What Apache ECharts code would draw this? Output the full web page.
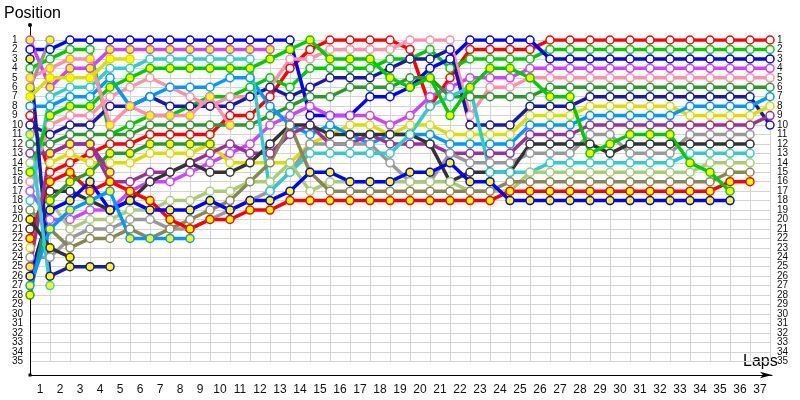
<!DOCTYPE html>
<html><head><meta charset="utf-8">
<script src="https://cdn.jsdelivr.net/npm/echarts@6/dist/echarts.min.js"></script>
<style>html,body{margin:0;padding:0;background:#fff}#c{width:800px;height:400px}</style>
</head><body><div id="c"></div>
<script>
// positions per lap (index = lap 0..37), trailing entries omitted when retired / lapped
const R1  = [9,15,14,13,12,12,11,11,11,11,9,9,7,4,2,1,1,1,1,2,8,5,2,2,2,2,1,1,1,1,1,1,1,1,1,1,1,1];
const G1  = [4,3,2,2,11,10,9,9,8,7,7,6,5,6,4,4,4,4,3,3,2,4,3,3,3,3,2,2,2,2,2,2,2,2,2,2,2,2];
const B1  = [2,2,1,1,1,1,1,1,1,1,1,1,1,1,9,9,9,7,7,6,4,3,1,1,1,1,3,3,3,3,3,3,3,3,3,3,3,3];
const V1  = [17,20,20,19,19,17,16,16,15,14,13,12,10,9,8,9,9,9,10,9,7,6,5,5,5,4,4,4,4,4,4,4,4,4,4,4,4,4];
const P1  = [16,10,9,9,7,6,5,6,7,8,7,7,6,3,3,2,2,2,2,1,1,1,9,6,6,5,5,5,5,5,5,5,5,5,5,5,5,5];
const DG1 = [12,12,11,11,11,11,10,10,10,10,10,10,9,8,7,7,6,6,6,5,5,7,7,7,7,7,6,6,6,6,6,6,6,6,6,6,6,6];
const N1  = [10,11,10,10,8,8,7,8,8,8,8,7,6,7,6,5,5,5,4,3,3,2,10,10,10,8,8,8,7,7,7,7,7,7,7,7,7,10];
const Y1  = [23,14,13,14,14,14,13,13,13,12,14,14,14,14,12,11,10,10,11,10,10,11,11,11,11,9,9,9,8,8,8,8,8,9,9,9,9,8];
const LB1 = [8,8,7,7,5,8,7,6,6,6,5,5,8,10,11,10,11,12,11,11,11,12,12,12,12,10,10,10,9,9,9,9,9,8,8,8,8,7];
const PU1 = [13,13,12,12,16,16,15,15,14,13,12,13,13,11,10,12,12,11,12,12,12,13,13,13,13,11,11,11,10,10,10,10,10,10,10,10,10,9];
const GR1 = [24,24,22,21,21,20,20,21,21,20,19,18,17,15,12,12,12,12,14,16,16,13,14,14,14,13,13,13,11,11,13,13,13,11,11,11,11];
const D1  = [21,17,17,18,19,18,16,15,14,15,15,14,12,10,10,11,11,11,11,11,12,16,15,15,15,12,12,12,12,13,12,12,12,12,12,12,12];
const C1  = [18,7,6,6,4,4,3,3,3,3,3,3,17,15,13,13,13,13,13,11,8,7,6,15,15,15,14,14,14,14,14,14,14,13,13,13,13];
const LG1 = [14,18,21,20,20,19,19,18,18,17,17,16,16,14,17,16,16,16,16,16,16,16,17,17,17,15,15,15,15,15,15,15,15,15,14,14,14];
const O1  = [19,21,23,22,22,21,22,21,20,19,18,16,14,10,15,17,17,17,17,17,17,17,17,17,16,16,16,16,16,16,16,16,16,16,16,15,15];
const R2  = [22,16,15,17,16,17,18,20,21,20,20,19,19,18,18,18,18,18,18,18,18,18,18,18,17,17,17,17,17,17,17,17,17,17,17,16,16];
const G2  = [15,9,8,8,6,5,4,4,4,4,4,4,3,2,1,3,3,3,5,6,5,9,6,4,4,5,7,7,13,12,11,11,11,14,15,17];
const B2  = [26,19,18,16,19,18,19,19,19,18,19,18,18,17,15,15,16,16,16,15,15,14,16,16,18,18,18,18,18,18,18,18,18,18,18,18];
const V2  = [1,6,4,4,2,2,2,2,2,2,2,2,2];
const P2  = [5,4,3,3,10,8,9,9,9,7,10];
const DG2 = [28,18,16,15,13,13,12,12,12,12];
const N2  = [3,26,25,25,25];
const Y2  = [7,5,5,5,3,3];
const LB2 = [27,21,19,18,17,22,22,22,22];
const PU2 = [25,13,12,12,15];
const GR2 = [6,1];
const D2  = [20,23,24];
const C2  = [11,27];

const drivers = [
  [R1,'#ff0000',0],[G1,'#00cc00',0],[B1,'#0000ff',0],[V1,'#cc44ff',0],[P1,'#ff8fab',0],
  [DG1,'#2a9a2a',0],[N1,'#1a1aaa',0],[Y1,'#dddd00',0],[LB1,'#0099ff',0],[PU1,'#993399',0],
  [GR1,'#999999',0],[D1,'#333333',0],[C1,'#33cccc',0],[LG1,'#aacc77',0],[O1,'#888855',0],
  [R2,'#ff0000',1],[G2,'#00cc00',1],[B2,'#0000ff',1],[V2,'#cc44ff',1],[P2,'#ff8fab',1],
  [DG2,'#2a9a2a',1],[N2,'#1a1aaa',1],[Y2,'#dddd00',1],[LB2,'#0099ff',1],[PU2,'#993399',1],
  [GR2,'#999999',1],[D2,'#333333',1],[C2,'#33cccc',1]
];

const series = drivers.map(([pos,color,yel]) => ({
  type:'line', xAxisIndex:0, yAxisIndex:0,
  data: pos.map((p,i)=>[i,p]),
  symbol:'circle', symbolSize:8, showSymbol:true,
  lineStyle:{color:color,width:3.5},
  itemStyle:{color:yel?'#ffff00':'#ffffff',borderColor:color,borderWidth:1.5},
  emphasis:{disabled:true}, silent:true
}));

const step = (361.2-40)/34;
const yLab = {align:'left',fontSize:10,color:'#111',fontFamily:'Liberation Sans',hideOverlap:false,
  formatter:v=>(v>=1&&v<=35)?String(v):''};

const chart = echarts.init(document.getElementById('c'),null,{renderer:'canvas'});
chart.setOption({
  animation:false,
  backgroundColor:'#ffffff',
  grid:[
    {left:30,right:30,top:40,bottom:38.8},
    {left:30,right:28,top:25,bottom:25},
    {left:30,right:30,top:40-step,bottom:38.8-step}
  ],
  xAxis:[
    {gridIndex:0,type:'value',min:0,max:37,interval:1,
     axisLine:{show:false},axisTick:{show:false},
     splitLine:{show:true,lineStyle:{color:'#d4d4d4',width:1}},
     axisLabel:{margin:22,fontSize:12,color:'#111',fontFamily:'Liberation Sans',
       showMinLabel:true,showMaxLabel:true,hideOverlap:false,
       padding:[0,20,0,0],formatter:v=>v>=1?String(v):''}},
    {gridIndex:1,type:'value',min:0,max:1,
     axisLine:{show:true,lineStyle:{color:'#000',width:1},symbol:['none','arrow'],symbolSize:[5,12]},
     axisTick:{show:false},axisLabel:{show:false},splitLine:{show:false}},
    {gridIndex:2,type:'value',min:0,max:37,show:false}
  ],
  yAxis:[
    {gridIndex:0,type:'value',inverse:true,min:1,max:35,interval:1,
     axisLine:{show:false},axisTick:{show:false},axisLabel:{show:false},
     splitLine:{show:true,lineStyle:{color:'#d4d4d4',width:1}}},
    {gridIndex:1,type:'value',min:0,max:1,
     axisLine:{show:true,lineStyle:{color:'#000',width:1},symbol:['none','circle'],symbolSize:[4,4]},
     axisTick:{show:false},axisLabel:{show:false},splitLine:{show:false}},
    {gridIndex:2,type:'value',inverse:true,min:0,max:36,interval:1,position:'left',
     axisLine:{show:false},axisTick:{show:false},splitLine:{show:false},
     axisLabel:Object.assign({margin:18},yLab)},
    {gridIndex:2,type:'value',inverse:true,min:0,max:36,interval:1,position:'right',
     axisLine:{show:false},axisTick:{show:false},splitLine:{show:false},
     axisLabel:Object.assign({margin:7},yLab)}
  ],
  graphic:[
    {type:'text',left:4,top:6,style:{text:'Position',font:'16px "Liberation Sans"',fill:'#000'}},
    {type:'text',left:743,top:354,style:{text:'Laps',font:'16px "Liberation Sans"',fill:'#000'}},
    {type:'rect',shape:{x:28.5,y:373.5,width:3,height:3},style:{fill:'#000'}}
  ],
  series:series
});
</script></body></html>
